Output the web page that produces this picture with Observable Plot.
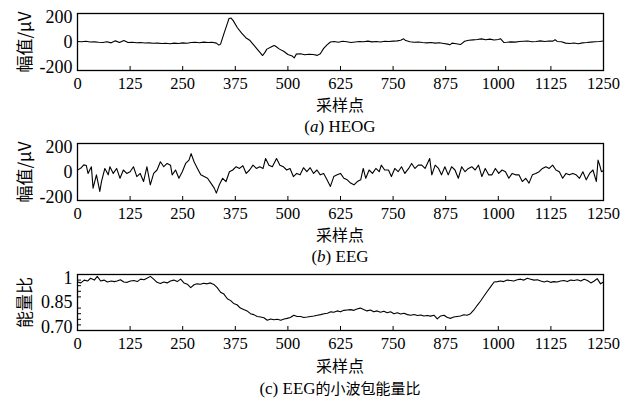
<!DOCTYPE html>
<html><head><meta charset="utf-8">
<script src="https://cdn.jsdelivr.net/npm/d3@7"></script>
<script src="https://cdn.jsdelivr.net/npm/@observablehq/plot@0.6"></script>
<style>
body{margin:0;background:#fff;}
#wrap{position:relative;width:629px;height:407px;overflow:hidden;}
.panel{position:absolute;left:0;width:629px;height:140px;}
.panel svg{position:absolute;left:0;top:0;}
.xl{position:absolute;left:77px;width:526px;text-align:center;font-family:"Noto Sans CJK SC";font-size:16px;line-height:18px;color:#000;}
.cap{position:absolute;left:77px;width:526px;text-align:center;font-family:"Liberation Serif",serif;font-size:17px;line-height:18px;color:#000;}
.cap .cj{font-family:"Noto Sans CJK SC";font-size:15px;}
.cap i{font-style:italic;}
</style>
</head><body>
<div id="wrap"></div>
<script>
const xTicks = [0,125,250,375,500,625,750,875,1000,1125,1250];
const uvTicks = [-200,0,200];
const ratioTicks = [0.70,0.85,1];
const ratioMinor = [0.73,0.76,0.79,0.82,0.88,0.91,0.94,0.97];

// HEOG (sample index, amplitude µV)
const heogX = [0,10,20,30,40,50,60,70,80,90,100,110,120,130,140,150,160,170,180,190,200,210,220,230,240,250,260,270,280,290,300,310,320,330,336,340,348,356,360,365,370,380,390,400,410,420,430,440,445,450,460,467,470,480,490,500,510,515,520,530,540,550,560,570,577,585,593,601,610,620,630,640,650,660,670,680,690,700,710,720,730,740,750,760,768,775,780,790,800,810,820,830,840,850,860,870,880,885,890,900,910,920,930,940,950,960,970,980,990,1000,1005,1013,1020,1030,1040,1050,1060,1070,1080,1090,1100,1110,1120,1130,1135,1140,1150,1160,1170,1180,1190,1200,1210,1220,1230,1240,1250];
const heogY = [3,2,5,0,1,-2,-4,2,-6,8,-3,10,-4,-2,-5,-4,-7,-6,-9,-8,-10,-9,-12,-8,-10,-6,-9,-4,-2,-5,-1,-3,-2,-8,-22,-15,59,129,165,168,150,100,62,30,10,-25,-60,-95,-75,-50,-35,-25,-28,-50,-65,-88,-98,-112,-85,-82,-90,-86,-88,-94,-82,-45,-20,0,3,-2,5,2,-4,0,3,2,6,1,4,0,5,3,6,8,12,22,10,2,-2,0,-4,-6,-3,-8,-5,-10,-15,-20,-8,-12,-18,5,12,15,18,22,16,20,14,18,23,-3,-2,1,-1,3,5,7,2,4,8,3,7,6,16,4,2,-8,-10,-7,-12,-6,-4,-1,2,4,7,10];

// EEG (sample index, amplitude µV)
const eegX = [1,9,15,21,25,33,37,45,53,57,65,73,77,85,93,101,109,117,125,133,141,149,157,165,173,181,189,197,205,213,221,225,233,241,249,257,265,270,277,285,293,301,309,317,325,330,337,345,353,361,369,377,385,393,401,409,417,425,433,441,447,455,463,473,481,489,497,505,513,521,529,537,545,553,561,569,577,585,593,601,609,617,625,633,641,649,657,665,673,679,685,693,701,709,717,722,730,739,746,754,762,770,778,787,794,802,810,818,826,837,842,850,858,865,873,881,889,897,905,913,921,929,937,945,953,961,969,977,985,993,1001,1009,1017,1025,1033,1041,1049,1057,1065,1073,1081,1089,1097,1105,1113,1121,1129,1137,1145,1153,1161,1169,1177,1185,1193,1201,1209,1217,1225,1233,1237,1241,1245,1250];
const eegY = [15,30,50,45,-10,37,-113,-20,-136,-67,25,-20,37,-10,25,-44,14,-10,2,37,-32,-10,-67,37,-90,-10,14,72,37,60,48,-20,14,-44,2,60,83,129,72,25,-20,-32,-44,-78,-113,-148,-90,-44,-67,2,14,37,25,44,-10,14,48,25,37,25,95,48,37,95,48,37,14,25,-32,-10,-20,30,2,30,-10,14,-20,-10,-55,-101,-32,-20,-10,-44,-55,-78,-90,-67,-55,25,-44,14,-10,25,2,48,14,14,-32,25,2,37,-10,25,60,25,48,48,25,95,-20,48,25,-20,37,-20,37,14,-44,37,2,25,37,14,48,-32,25,-20,-20,25,-10,14,2,-44,-10,-20,-20,-67,-44,-78,-20,-10,2,25,37,25,48,14,2,-44,-10,-20,-10,-20,-44,2,-55,-10,14,-67,83,48,2,10];

// Wavelet-packet energy ratio (sample index, ratio)
const ratioX = [0,8,16,24,31,40,47,55,63,71,80,88,94,102,110,118,126,134,142,150,158,165,173,181,189,197,205,213,221,229,237,245,253,261,269,277,284,292,300,308,316,324,332,340,348,356,364,371,379,387,395,403,411,419,427,435,443,451,459,467,475,483,491,498,506,514,522,530,538,546,554,562,570,578,586,594,602,609,617,625,633,641,649,657,664,672,680,688,696,704,712,720,728,736,744,752,760,768,776,784,792,800,808,816,823,831,839,847,855,863,871,879,887,894,902,910,918,926,934,942,950,958,966,974,982,990,998,1005,1013,1021,1029,1037,1045,1053,1061,1069,1077,1085,1093,1101,1109,1116,1124,1132,1140,1148,1156,1164,1172,1180,1188,1196,1204,1212,1220,1228,1235,1243,1250];
const ratioY = [0.96,0.955,0.97,0.965,0.98,0.97,0.99,0.965,0.97,0.96,0.965,0.962,0.965,0.972,0.96,0.958,0.965,0.968,0.962,0.975,0.972,0.98,0.99,0.975,0.958,0.952,0.96,0.955,0.965,0.97,0.962,0.975,0.955,0.948,0.93,0.945,0.95,0.948,0.953,0.95,0.955,0.947,0.93,0.905,0.895,0.87,0.86,0.845,0.838,0.82,0.812,0.805,0.79,0.785,0.775,0.772,0.768,0.755,0.762,0.758,0.76,0.755,0.762,0.765,0.77,0.782,0.775,0.775,0.77,0.772,0.775,0.778,0.782,0.785,0.79,0.792,0.8,0.798,0.805,0.8,0.808,0.81,0.812,0.808,0.815,0.82,0.812,0.805,0.81,0.8,0.805,0.798,0.803,0.795,0.8,0.79,0.795,0.788,0.792,0.785,0.782,0.786,0.78,0.783,0.778,0.78,0.777,0.782,0.762,0.778,0.782,0.77,0.765,0.772,0.775,0.778,0.784,0.782,0.79,0.81,0.835,0.858,0.885,0.91,0.935,0.96,0.962,0.965,0.962,0.97,0.968,0.965,0.972,0.975,0.97,0.98,0.975,0.97,0.972,0.965,0.96,0.965,0.958,0.962,0.96,0.965,0.968,0.962,0.97,0.968,0.972,0.965,0.975,0.968,0.955,0.965,0.978,0.95,0.96];

const serifFont = "Liberation Serif";
const cjkFont = "Noto Sans CJK SC";
const ML = 77, MR = 26, MT = 13, MB = 32;

function panel({top, inner, xs, ys, domain, yTicks, yFmt, yLabel, caption, minor}) {
  const data = xs.map((x, i) => ({x, y: ys[i]}));
  const h = MT + inner + MB;
  const innerW = 629 - ML - MR;
  const hi = yTicks[yTicks.length - 1], lo = yTicks[0];
  const mid = yTicks.slice(1, -1);
  const marks = [
    Plot.frame({stroke: "#000", strokeWidth: 1.3}),
    Plot.ruleX(xTicks, {x: d => d, insetTop: inner - 4, stroke: "#000", strokeWidth: 1}),
    Plot.axisX({ticks: xTicks, tickSize: 0, tickPadding: 7, tickFormat: d => String(d), fontSize: 16.5, fontFamily: serifFont, fill: "#000", label: null}),
    Plot.axisY([hi], {tickSize: 0, tickPadding: 5, tickFormat: yFmt, fontSize: 18, fontFamily: serifFont, fill: "#000", dy: 4, label: null}),
    Plot.axisY(mid, {tickSize: 0, tickPadding: 5, tickFormat: yFmt, fontSize: 18, fontFamily: serifFont, fill: "#000", label: null}),
    Plot.axisY([lo], {tickSize: 0, tickPadding: 5, tickFormat: yFmt, fontSize: 18, fontFamily: serifFont, fill: "#000", dy: -3, label: null}),
    Plot.text([yLabel], {frameAnchor: "left", dx: -52, rotate: -90, text: d => d, fontSize: 17, fontFamily: cjkFont, fill: "#000", textAnchor: "middle"}),
    Plot.line(data, {x: "x", y: "y", stroke: "#000", strokeWidth: 1.1})
  ];
  if (minor) marks.splice(2, 0, Plot.ruleY(minor, {y: d => d, insetRight: innerW - 4, stroke: "#000", strokeWidth: 1}));
  const svg = Plot.plot({
    width: 629, height: h,
    marginLeft: ML, marginRight: MR, marginTop: MT, marginBottom: MB,
    x: {domain: [0, 1250], axis: null},
    y: {domain, axis: null},
    style: {background: "transparent", color: "#000", overflow: "visible"},
    marks
  });
  const div = document.createElement("div");
  div.className = "panel";
  div.style.top = top + "px";
  div.appendChild(svg);
  const xl = document.createElement("div");
  xl.className = "xl"; xl.style.top = "95px"; xl.textContent = "采样点";
  div.appendChild(xl);
  const cap = document.createElement("div");
  cap.className = "cap"; cap.style.top = "118px"; cap.innerHTML = caption;
  div.appendChild(cap);
  document.getElementById("wrap").appendChild(div);
}

const fmtUV = d => d < 0 ? "-" + Math.abs(d) : String(d);
const fmtR = d => d === 1 ? "1" : d.toFixed(2);

panel({top: 0, inner: 57, xs: heogX, ys: heogY, domain: [-200, 200], yTicks: uvTicks, yFmt: fmtUV, yLabel: "幅值/μV", caption: "(<i>a</i>) HEOG"});
panel({top: 130, inner: 57, xs: eegX, ys: eegY, domain: [-200, 200], yTicks: uvTicks, yFmt: fmtUV, yLabel: "幅值/μV", caption: "(<i>b</i>) EEG"});
panel({top: 261, inner: 56, xs: ratioX, ys: ratioY, domain: [0.70, 1], yTicks: ratioTicks, yFmt: fmtR, yLabel: "能量比", caption: "(c) EEG<span class=\"cj\">的小波包能量比</span>", minor: ratioMinor});
</script>
</body></html>
